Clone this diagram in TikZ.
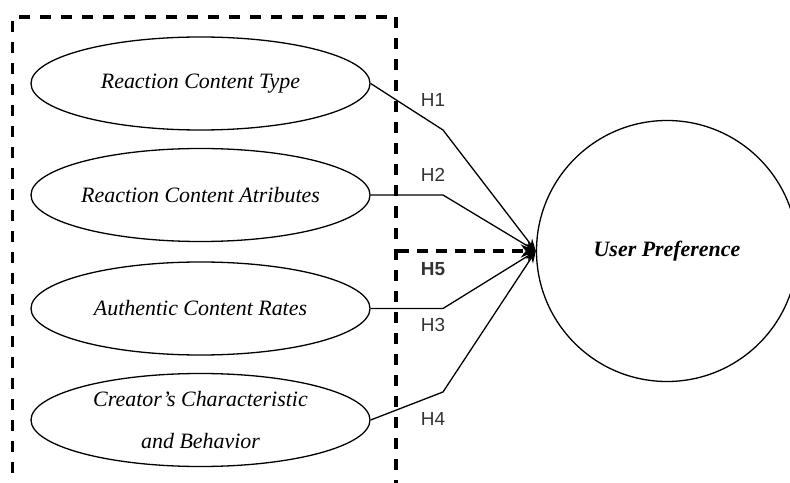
\documentclass[tikz,border=0pt]{standalone}
\usepackage{fontspec}
\setmainfont{Liberation Serif}
\newfontfamily\labfont{Liberation Sans}
\usetikzlibrary{shapes.geometric,arrows.meta}
\tikzset{
  factor/.style={draw, ellipse, line width=1.3bp, minimum width=339bp, minimum height=93bp, inner sep=0pt,
     font=\fontsize{22}{42}\selectfont\itshape, align=center},
  target/.style={draw, circle, line width=1.3bp, minimum size=261bp, inner sep=0pt,
     font=\fontsize{22}{26}\selectfont\bfseries\itshape},
  groupbox/.style={draw, line width=3.2bp, dash pattern=on 11bp off 10bp, minimum width=383.5bp, minimum height=468bp, inner sep=0pt},
  link/.style={line width=1.3bp, -{Stealth[length=12bp,width=9bp]}},
  grouplink/.style={line width=3.2bp, dash pattern=on 11bp off 8bp, -{Stealth[length=15bp,width=13bp]}},
  hlab/.style={font=\labfont\fontsize{19}{22}\selectfont, text=black!80, inner sep=0pt},
}
\begin{document}
\begin{tikzpicture}[x=1bp,y=-1bp]
\useasboundingbox (0,0) rectangle (790,483);
\node[groupbox] (grp) at (204.25,251) {};
\node[factor] (f1) at (200.5,83.5) {Reaction Content Type};
\node[factor] (f2) at (200.5,195) {Reaction Content Atributes};
\node[factor] (f3) at (200.5,308.5) {Authentic Content Rates};
\node[factor] (f4) at (200.5,420) {Creator's Characteristic\\and Behavior};
\node[target] (up) at (667,251) {User Preference};
\coordinate (b1) at (443,130);
\coordinate (b2) at (443,195);
\coordinate (b3) at (443,308.5);
\coordinate (b4) at (443,392);
\draw[link] (f1.east) -- (b1) -- (up.west);
\draw[link] (f2.east) -- (b2) -- (up.west);
\draw[link] (f3.east) -- (b3) -- (up.west);
\draw[link] (f4.east) -- (b4) -- (up.west);
\draw[grouplink] (grp.east) -- (up.west);
\node[hlab] (h1) at (433,100) {H1};
\node[hlab] (h2) at (433,175) {H2};
\node[hlab, font=\labfont\bfseries\fontsize{19}{22}\selectfont] (h5) at (433,269.5) {H5};
\node[hlab] (h3) at (433,325) {H3};
\node[hlab] (h4) at (433,419) {H4};
\end{tikzpicture}
\end{document}
